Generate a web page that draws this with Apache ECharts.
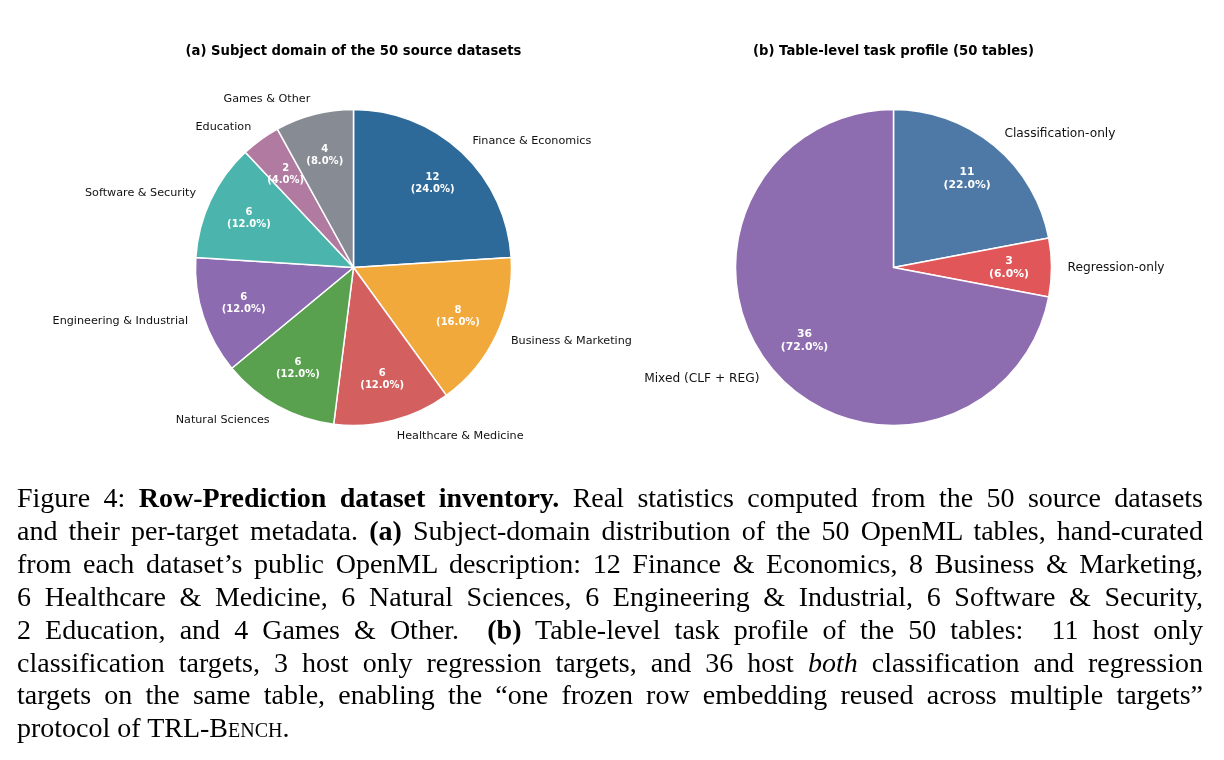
<!DOCTYPE html>
<html>
<head>
<meta charset="utf-8">
<script src="https://cdn.jsdelivr.net/npm/echarts@6/dist/echarts.min.js"></script>
<style>
  html, body { margin: 0; padding: 0; background: #fff; }
  #chart { position: absolute; left: 0; top: 0; width: 1224px; height: 760px; }
  #caption {
    position: absolute; left: 17px; top: 482px; width: 1186px;
    font-family: "Liberation Serif", "DejaVu Serif", serif;
    font-size: 28px; line-height: 32.9px; color: #000;
  }
  #caption .ln { text-align: justify; text-align-last: justify; white-space: nowrap; }
  #caption .ln.last { text-align: left; text-align-last: left; }
  #caption .sc { font-variant: small-caps; }
</style>
</head>
<body>
<div id="chart"></div>
<div id="caption">
  <div class="ln">Figure 4: <b>Row-Prediction dataset inventory.</b> Real statistics computed from the 50 source datasets</div>
  <div class="ln">and their per-target metadata. <b>(a)</b> Subject-domain distribution of the 50 OpenML tables, hand-curated</div>
  <div class="ln">from each dataset’s public OpenML description: 12 Finance &amp; Economics, 8 Business &amp; Marketing,</div>
  <div class="ln">6 Healthcare &amp; Medicine, 6 Natural Sciences, 6 Engineering &amp; Industrial, 6 Software &amp; Security,</div>
  <div class="ln">2 Education, and 4 Games &amp; Other. &nbsp;<b>(b)</b> Table-level task profile of the 50 tables: &nbsp;11 host only</div>
  <div class="ln">classification targets, 3 host only regression targets, and 36 host <i>both</i> classification and regression</div>
  <div class="ln">targets on the same table, enabling the “one frozen row embedding reused across multiple targets”</div>
  <div class="ln last">protocol of TRL-<span class="sc">Bench</span>.</div>
</div>
<script>
// ---- data ----
const domainCategories = ['Finance & Economics', 'Business & Marketing', 'Healthcare & Medicine', 'Natural Sciences',
  'Engineering & Industrial', 'Software & Security', 'Education', 'Games & Other'];
const domainCounts = [12, 8, 6, 6, 6, 6, 2, 4];
const domainColors = ['#2e6a99', '#f2a93b', '#d45f5f', '#59a14f', '#8c6bb0', '#4bb5ad', '#b07aa1', '#878b94'];

const taskCategories = ['Classification-only', 'Regression-only', 'Mixed (CLF + REG)'];
const taskCounts = [11, 3, 36];
const taskColors = ['#4e79a7', '#e15759', '#8e6cb0'];

const titleA = '(a) Subject domain of the 50 source datasets';
const titleB = '(b) Table-level task profile (50 tables)';

// ---- chart ----
const chart = echarts.init(document.getElementById('chart'), null, { renderer: 'canvas' });
const R = 158;
const LABEL_FONT = 'DejaVu Sans';

function buildData(cats, vals, cols, transparent) {
  return cats.map((c, i) => ({
    name: c, value: vals[i],
    itemStyle: transparent ? { color: 'rgba(0,0,0,0)', borderWidth: 0 } : { color: cols[i] }
  }));
}
function pctFormatter(vals) {
  const total = vals.reduce((a, b) => a + b, 0);
  return p => p.value + '\n(' + (p.value / total * 100).toFixed(1) + '%)';
}
function piePair(center, cats, vals, cols, outerSize, innerSize) {
  return [
    {
      type: 'pie', center: center, radius: [0, R], startAngle: 90, clockwise: true,
      avoidLabelOverlap: false, animation: false, silent: true,
      itemStyle: { borderColor: '#ffffff', borderWidth: 1.5 },
      label: { show: true, position: 'outside', color: '#111', fontFamily: LABEL_FONT, fontSize: outerSize,
               distanceToLabelLine: 0, formatter: '{b}' },
      labelLine: { show: false, length: 16, length2: 0 },
      emphasis: { disabled: true },
      data: buildData(cats, vals, cols, false)
    },
    {
      type: 'pie', center: center, radius: [0, 225], startAngle: 90, clockwise: true,
      avoidLabelOverlap: false, animation: false, silent: true, z: 3,
      label: { show: true, position: 'inside', color: '#fff', fontFamily: LABEL_FONT, fontSize: innerSize,
               fontWeight: 'bold', lineHeight: innerSize * 1.2, formatter: pctFormatter(vals) },
      labelLine: { show: false },
      emphasis: { disabled: true },
      data: buildData(cats, vals, cols, true)
    }
  ];
}

chart.setOption({
  backgroundColor: '#ffffff',
  animation: false,
  graphic: [
    { type: 'text', x: 353.5, y: 52, style: { text: titleA, textAlign: 'center', textVerticalAlign: 'middle',
      fontFamily: LABEL_FONT, fontSize: 13.2, fontWeight: 'bold', fill: '#000' } },
    { type: 'text', x: 893.5, y: 52, style: { text: titleB, textAlign: 'center', textVerticalAlign: 'middle',
      fontFamily: LABEL_FONT, fontSize: 13.2, fontWeight: 'bold', fill: '#000' } }
  ],
  series: [
    ...piePair([353.5, 267.5], domainCategories, domainCounts, domainColors, 11.2, 10),
    ...piePair([893.5, 267.5], taskCategories, taskCounts, taskColors, 12.2, 10.8)
  ]
});
</script>
</body>
</html>
